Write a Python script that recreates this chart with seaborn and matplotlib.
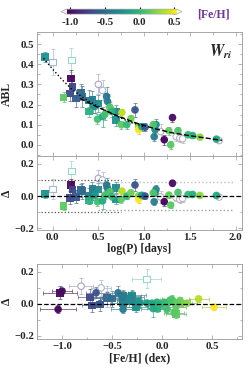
import numpy as np
import pandas as pd
import matplotlib
matplotlib.use('Agg')
import matplotlib.pyplot as plt
import seaborn as sns
from matplotlib.colors import Normalize
from matplotlib.ticker import AutoMinorLocator, MultipleLocator

# ─────────────────────────────────────────
# DATA
# ─────────────────────────────────────────
logp = [-0.085, 0.00, 0.205, 0.20, 0.215, 0.19, 0.12, 0.255, 0.31, 0.325,
        0.40, 0.435, 0.445, 0.50, 0.69, 0.69, 0.40,
        0.50, 0.545, 0.59, 0.60, 0.46, 0.49, 0.545, 0.57, 0.625,
        0.645, 0.757, 0.75, 0.81, 0.855, 0.90, 0.94, 0.94, 0.975,
        1.01, 1.11, 1.12, 1.13, 1.10, 1.22, 1.18, 1.27, 1.31, 1.29,
        1.37, 1.35, 1.39, 1.42, 1.48, 1.53, 1.61, 1.79, 1.82]
abl = [0.437, 0.41, 0.42, 0.33, 0.29, 0.255, 0.235, 0.23, 0.26, 0.24,
       0.22, 0.225, 0.20, 0.205, 0.165, 0.124, 0.165,
       0.30, 0.27, 0.24, 0.215, 0.19, 0.127, 0.14, 0.15, 0.187,
       0.165, 0.16, 0.10, 0.10, 0.13, 0.173, 0.09, 0.075, 0.09,
       0.087, 0.04, 0.075, 0.10, 0.10, 0.025, 0.066, 0.07, 0.135, 0.0,
       0.07, 0.04, 0.033, 0.03, 0.05, 0.046, 0.038, 0.028, 0.021]
delta = [0.012, 0.044, 0.156, 0.069, 0.04, -0.01, -0.063, -0.004, 0.037, 0.032,
         0.002, 0.048, 0.017, 0.042, 0.052, -0.02, -0.025,
         0.11, 0.10, 0.069, 0.048, 0.006, -0.035, -0.03, 0.004, 0.027,
         -0.002, 0.031, -0.02, 0.0, 0.021, 0.069, 0.002, -0.02, 0.005,
         0.0, -0.035, 0.023, 0.042, 0.02, -0.035, -0.005, 0.006, 0.08, -0.056,
         0.023, -0.01, -0.02, -0.015, 0.01, 0.01, 0.004, 0.004, -0.006]
feh = [-0.25, -0.55, -0.155, -1.02, -0.72, -0.70, 0.14, -0.62, -0.55, -0.50,
       -0.39, -0.39, -0.33, -0.30, -0.30, -0.26, -0.05,
       -0.81, -0.61, -0.44, -0.39, -0.22, 0.05, -0.09, 0.06, 0.10,
       -0.01, 0.365, 0.14, 0.0, 0.18, -0.66, 0.20, 0.52, -0.15,
       -0.62, -0.39, -0.30, -0.32, 0.10, -1.04, np.nan, 0.15, -1.0, 0.12,
       0.08, np.nan, np.nan, np.nan, 0.02, -0.05, 0.25, -0.10, np.nan]
shape = ['s'] * 17 + ['o'] * 37
is_open = [False, True, True] + [False] * 14 + [True, True] + [False] * 22 + \
          [True, False, False, False, False, True, True, True, False, False, False, False, True]
abl_err = [0.025, 0.065, 0.06, 0.04, 0.05, 0.04, 0.025, 0.04, 0.04, 0.05,
           0.05, 0.04, 0.04, 0.04, 0.035, 0.03, 0.025,
           0.05, 0.05, 0.045, 0.035, 0.03, 0.025, 0.05, 0.025, 0.025,
           0.025, 0.02, 0.02, 0.02, 0.02, 0.035, 0.02, 0.02, 0.02,
           0.02, 0.02, 0.025, 0.03, 0.02, 0.025, 0.035, 0.02, 0.02, 0.02,
           0.02, 0.02, 0.02, 0.02, 0.01, 0.01, 0.01, 0.01, 0.01]
feh_err = [0.12, 0.12, 0.145, 0.17, 0.12, 0.10, 0.10, 0.12, 0.15, 0.12,
           0.12, 0.18, 0.12, 0.12, 0.14, 0.12, 0.10,
           0.12, 0.10, 0.10, 0.12, 0.14, 0.10, 0.12, 0.10, 0.10,
           0.12, 0.10, 0.10, 0.10, 0.10, 0.10, 0.10, 0.12, 0.12,
           0.10, 0.12, 0.12, 0.10, 0.10, 0.18, 0.10, 0.10, 0.10, 0.10,
           0.10, 0.10, 0.10, 0.10, 0.10, 0.10, 0.10, 0.10, 0.10]

# fitted relations (dotted: short-period branch, dashed: overall fit)
dot_x = [-0.1, 0.0, 0.1, 0.2, 0.3, 0.4, 0.5, 0.6, 0.7, 0.8, 0.9, 1.0]
dot_y = [0.43, 0.375, 0.325, 0.28, 0.245, 0.215, 0.19, 0.165, 0.142, 0.122, 0.105, 0.09]
dash_x = [0.3, 0.5, 0.7, 0.9, 1.1, 1.3, 1.5, 1.7, 1.85]
dash_y = [0.23, 0.185, 0.145, 0.11, 0.082, 0.06, 0.045, 0.032, 0.022]

df = pd.DataFrame({'logp': logp, 'abl': abl, 'delta': delta, 'feh': feh,
                   'shape': shape, 'open': is_open,
                   'abl_err': abl_err, 'feh_err': feh_err})

# ─────────────────────────────────────────
# STYLE
# ─────────────────────────────────────────
sns.set_theme(style='ticks')
plt.rcParams['font.family'] = ['Liberation Serif', 'DejaVu Serif']
plt.rcParams['font.weight'] = 'bold'
plt.rcParams['axes.labelweight'] = 'bold'
plt.rcParams['mathtext.fontset'] = 'stix'

cmap = plt.get_cmap('viridis').copy()
cmap.set_under('#f6eef6')
cmap.set_over('#fbfbf2')
norm = Normalize(vmin=-1.05, vmax=0.53)


def color_of(v, pale=False, grey=0.0):
    if np.isnan(v):
        return '#b8b0c0'
    c = np.array(cmap(norm(v)))
    if pale:
        c[:3] = 0.45 * c[:3] + 0.55
    elif grey:
        c[:3] = (1 - grey) * c[:3] + grey * 0.55
    return tuple(c)


def draw(ax, xcol, ycol, use_xerr=False):
    sub = df.dropna(subset=[xcol, ycol])
    for _, r in sub.iterrows():
        col = color_of(r['feh'], pale=r['open'], grey=0.35)
        ax.errorbar(r[xcol], r[ycol], yerr=r['abl_err'],
                    xerr=r['feh_err'] if use_xerr else None,
                    fmt='none', ecolor=col, elinewidth=0.6, capsize=1.4,
                    capthick=0.6, alpha=0.8, zorder=1)
    filled = sub[~sub['open']]
    sns.scatterplot(data=filled, x=xcol, y=ycol, hue='feh', palette='viridis',
                    hue_norm=norm, style='shape', markers={'o': 'o', 's': 's'},
                    s=30, linewidth=0, alpha=0.95, legend=False, ax=ax, zorder=3)
    hollow = sub[sub['open']]
    for mk in ['o', 's']:
        h = hollow[hollow['shape'] == mk]
        if len(h):
            ax.scatter(h[xcol], h[ycol], marker=mk, s=22, facecolors='white',
                       edgecolors=[color_of(v, pale=True) for v in h['feh']],
                       linewidths=0.8, zorder=2)


def style_ax(ax):
    for sp in ax.spines.values():
        sp.set_color('#999999')
        sp.set_linewidth(0.6)
    ax.xaxis.set_minor_locator(AutoMinorLocator(2))
    ax.yaxis.set_minor_locator(AutoMinorLocator(2))
    ax.tick_params(which='both', direction='in', top=True, right=True,
                   color='#999999', width=0.5, labelsize=7.8, pad=2)
    ax.tick_params(which='major', length=3)
    ax.tick_params(which='minor', length=1.8)


fig = plt.figure(figsize=(2.49, 3.72), dpi=100)
ax1 = fig.add_axes([0.149, 0.581, 0.823, 0.333])
ax2 = fig.add_axes([0.149, 0.382, 0.823, 0.199])
ax3 = fig.add_axes([0.149, 0.089, 0.823, 0.2016])

# --- top panel: ABL vs log(P) ---
draw(ax1, 'logp', 'abl')
ax1.plot(dot_x, dot_y, ls=':', color='black', lw=1.0, zorder=4)
ax1.plot(dash_x, dash_y, ls='--', color='black', lw=1.0, zorder=4)
ax1.set_xlim(-0.17, 2.07)
ax1.set_ylim(-0.055, 0.56)
ax1.yaxis.set_major_locator(MultipleLocator(0.1))
ax1.set_xlabel('')
ax1.set_ylabel('ABL', fontsize=8.5)
ax1.text(0.84, 0.80, r'$\mathbfit{W}_{\mathbfit{ri}}$', transform=ax1.transAxes,
         fontsize=11.5)
style_ax(ax1)
ax1.tick_params(labelbottom=False)

# --- middle panel: residual vs log(P) ---
draw(ax2, 'logp', 'delta')
ax2.axhline(0, ls='--', color='black', lw=0.9, zorder=4)
ax2.hlines([0.1, -0.1], -0.13, 0.75, colors='#555555', linestyles=':', lw=0.9)
ax2.hlines([0.085], 0.7, 1.97, colors='#c0c0c0', linestyles=':', lw=1.0)
ax2.hlines([-0.088], 0.5, 1.97, colors='#a0a0a0', linestyles=':', lw=1.0)
ax2.set_xlim(-0.17, 2.07)
ax2.set_ylim(-0.21, 0.25)
ax2.yaxis.set_major_locator(MultipleLocator(0.2))
ax2.xaxis.set_major_locator(MultipleLocator(0.5))
ax2.set_xlabel('log(P) [days]', fontsize=8.5, labelpad=1)
ax2.set_ylabel('Δ', fontsize=8.5)
style_ax(ax2)

# --- bottom panel: residual vs [Fe/H] ---
draw(ax3, 'feh', 'delta', use_xerr=True)
ax3.axhline(0, ls='--', color='black', lw=0.9, zorder=4)
ax3.set_xlim(-1.25, 0.8)
ax3.set_ylim(-0.22, 0.25)
ax3.yaxis.set_major_locator(MultipleLocator(0.2))
ax3.xaxis.set_major_locator(MultipleLocator(0.5))
ax3.set_xlabel('[Fe/H] (dex)', fontsize=8.5, labelpad=1)
ax3.set_ylabel('Δ', fontsize=8.5)
style_ax(ax3)

for ax in (ax1, ax2, ax3):
    ax.yaxis.set_label_coords(-0.12, 0.5)

# --- colorbar on top ---
cax = fig.add_axes([0.245, 0.962, 0.486, 0.0134])
sm = plt.cm.ScalarMappable(cmap=cmap, norm=norm)
cb = fig.colorbar(sm, cax=cax, orientation='horizontal', extend='both',
                  ticks=[-1.0, -0.5, 0.0, 0.5])
cb.ax.tick_params(direction='in', length=5, width=0.8, color='black',
                  labelsize=7.8, pad=3)
cb.ax.set_xticklabels(['-1.0', '-0.5', '0.0', '0.5'])
cb.outline.set_linewidth(0.5)
cb.outline.set_edgecolor('#aaaaaa')
fig.text(0.79, 0.962, '[Fe/H]', color='#6b3a8e', fontsize=8.5,
         fontweight='bold', va='center', ha='left')

fig.savefig('out.png', dpi=100)
